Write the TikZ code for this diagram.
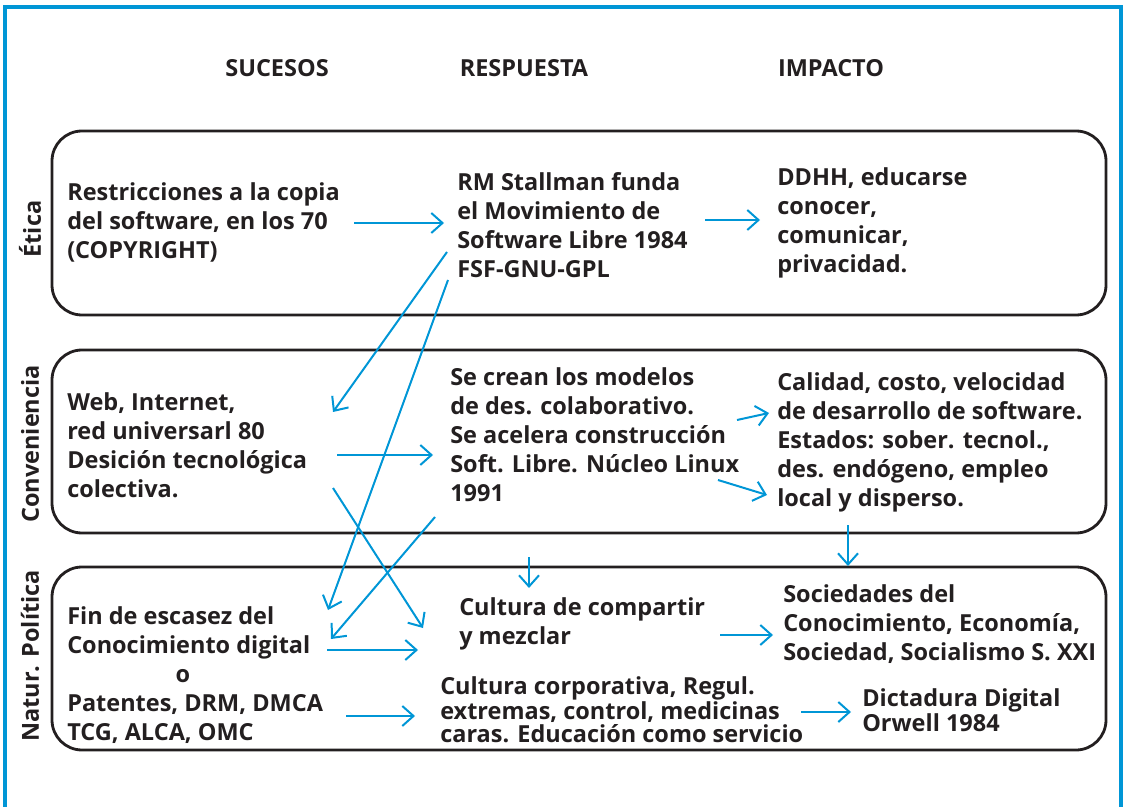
\documentclass[tikz,border=0pt]{standalone}
\usepackage{fontspec}
\setmainfont{Open Sans}
\usetikzlibrary{arrows.meta}
\definecolor{azul}{RGB}{0,150,214}
\definecolor{tinta}{RGB}{35,31,32}
\def\letra{\fontsize{16.7}{20.6}\selectfont\bfseries}
\def\letrajunta{\fontsize{16.7}{16.4}\selectfont\bfseries}
\tikzset{
	texto/.style={font=\letra, text=tinta, align=left, anchor=west, inner sep=0pt},
	junto/.style={texto, font=\letrajunta},
	titulo/.style={font=\letra, text=tinta, inner sep=0pt},
	eje/.style={titulo, rotate=90},
	fila/.style={draw=tinta, line width=0.7mm, rounded corners=0.75cm},
	flecha/.style={draw=azul, line width=0.5mm, -{Straight Barb[length=0.28cm, width=0.5cm]}}
}

\begin{document}
\begin{tikzpicture}[x=0.025cm, y=-0.025cm]
		%%%%% START %%%%%
		\useasboundingbox (0, 0) rectangle (1126, 807);
		
		\draw[azul, line width=0.8mm] (5, 807) -- (5, 7) -- (1121, 7) -- (1121, 807);
		
		\node[titulo] (suc) at (277, 68) {SUCESOS};
		\node[titulo] (res) at (524, 68) {RESPUESTA};
		\node[titulo] (imp) at (831, 68) {IMPACTO};
		
		\draw[fila] (52, 131) rectangle (1106, 315);
		\draw[fila] (52, 350) rectangle (1106, 533);
		\draw[fila] (52, 567) rectangle (1106, 750);
		
		\node[eje] (etica) at (30, 229) {Ética};
		\node[eje] (conv) at (30, 444) {Conveniencia};
		\node[eje] (natur) at (30, 656) {Natur. Política};
		
		% etica
		\node[texto] (a1) at (67, 222) {Restricciones a la copia\\del software, en los 70\\(COPYRIGHT)};
		\node[texto] (b1) at (457, 225) {RM Stallman funda\\el Movimiento de\\Software Libre 1984\\FSF-GNU-GPL};
		\node[texto] (c1) at (777, 223) {DDHH, educarse\\conocer,\\comunicar,\\privacidad.};
		
		% conveniencia
		\node[texto] (a2) at (67, 445) {Web, Internet,\\red universarl 80\\Desición tecnológica\\colectiva.};
		\node[texto] (b2) at (450, 435) {Se crean los modelos\\de des. colaborativo.\\Se acelera construcción\\Soft. Libre. Núcleo Linux\\1991};
		\node[texto] (c2) at (777, 442) {Calidad, costo, velocidad\\de desarrollo de software.\\Estados: sober. tecnol.,\\des. endógeno, empleo\\local y disperso.};
		
		% natur. politica
		\node[texto] (a3) at (67, 675) {Fin de escasez del\\Conocimiento digital\\\hspace*{77pt}o\\Patentes, DRM, DMCA\\TCG, ALCA, OMC};
		\node[texto] (b3a) at (459, 624) {Cultura de compartir\\y mezclar};
		\node[junto] (b3b) at (440, 710) {Cultura corporativa, Regul.\\extremas, control, medicinas\\caras. Educación como servicio};
		\node[texto] (c3a) at (783, 624) {Sociedades del\\Conocimiento, Economía,\\Sociedad, Socialismo S. XXI};
		\node[junto] (c3b) at (862, 710) {Dictadura Digital\\Orwell 1984};
		
		% flechas
		\draw[flecha] ([shift={(287,1)}]a1.west) -- ([shift={(-13,-2)}]b1.west);
		\draw[flecha] ([shift={(248,-5)}]b1.west) -- ([shift={(-17,-3)}]c1.west);
		\draw[flecha] ([shift={(-10,27)}]b1.west) -- ([shift={(266,-33)}]a2.west);
		\draw[flecha] ([shift={(-9,55)}]b1.west) -- ([shift={(261,-65)}]a3.west);
		
		\draw[flecha] ([shift={(270,10)}]a2.west) -- ([shift={(-17,20)}]b2.west);
		\draw[flecha] ([shift={(266,43)}]a2.west) -- ([shift={(-36,4)}]b3a.west);
		\draw[flecha] ([shift={(-15,82)}]b2.west) -- ([shift={(264,-36)}]a3.west);
		\draw[flecha] ([shift={(287,-15)}]b2.west) -- ([shift={(-8,-29)}]c2.west);
		\draw[flecha] ([shift={(268,45)}]b2.west) -- ([shift={(-10,53)}]c2.west);
		\draw[flecha] ([shift={(79,122)}]b2.west) -- ([shift={(70,-36)}]b3a.west);
		\draw[flecha] ([shift={(71,83)}]c2.west) -- ([shift={(65,-58)}]c3a.west);
		
		\draw[flecha] ([shift={(260,-25)}]a3.west) -- ([shift={(-41,26)}]b3a.west);
		\draw[flecha] ([shift={(261,11)}]b3a.west) -- ([shift={(-10,11)}]c3a.west);
		\draw[flecha] ([shift={(279,41)}]a3.west) -- ([shift={(-25,6)}]b3b.west);
		\draw[flecha] ([shift={(361,2)}]b3b.west) -- ([shift={(-11,2)}]c3b.west);
		
		%%%%% END %%%%%
	\end{tikzpicture}
\end{document}
